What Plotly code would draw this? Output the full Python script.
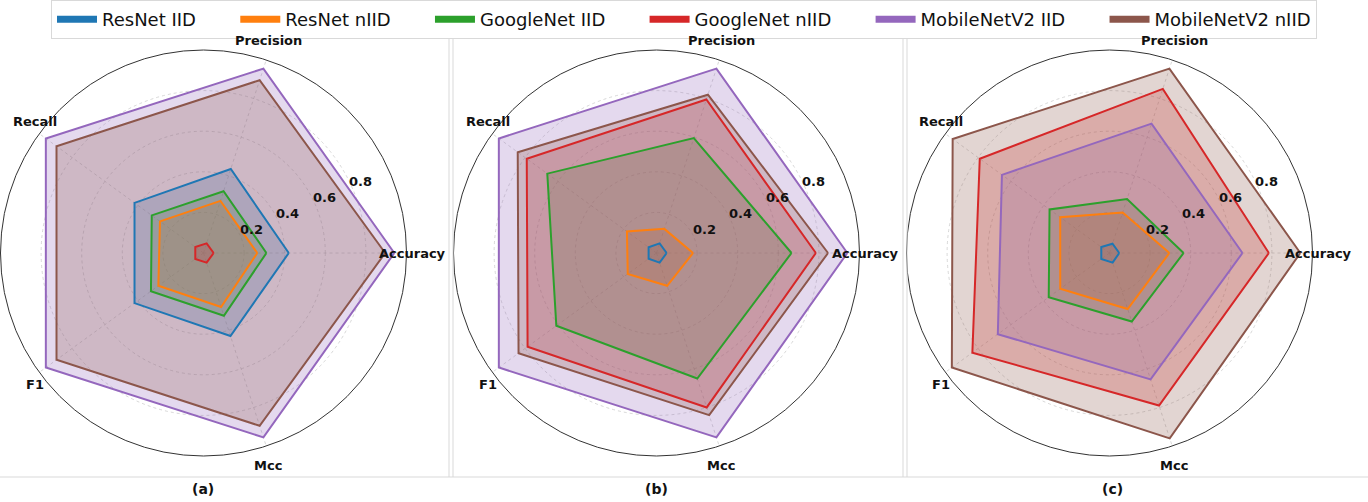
import math
import plotly.graph_objects as go

# Metrics on the radar axes (counter-clockwise from the right)
metrics = ["Accuracy", "Precision", "Recall", "F1", "Mcc"]

models = ["ResNet IID", "ResNet nIID", "GoogleNet IID", "GoogleNet nIID",
          "MobileNetV2 IID", "MobileNetV2 nIID"]
colors = ["#1f77b4", "#ff7f0e", "#2ca02c", "#d62728", "#9467bd", "#8c564b"]

# Panel (a)
a_resnet_iid = [0.42, 0.435, 0.42, 0.42, 0.43]
a_resnet_niid = [0.265, 0.27, 0.265, 0.275, 0.28]
a_googlenet_iid = [0.31, 0.32, 0.315, 0.32, 0.325]
a_googlenet_niid = [0.05, 0.05, 0.05, 0.05, 0.05]
a_mobilenet_iid = [0.94, 0.955, 0.96, 0.96, 0.955]
a_mobilenet_niid = [0.895, 0.895, 0.895, 0.895, 0.895]

# Panel (b)
b_resnet_iid = [0.05, 0.05, 0.048, 0.048, 0.05]
b_resnet_niid = [0.18, 0.125, 0.18, 0.175, 0.17]
b_googlenet_iid = [0.665, 0.595, 0.665, 0.61, 0.65]
b_googlenet_niid = [0.785, 0.795, 0.79, 0.785, 0.80]
b_mobilenet_iid = [0.94, 0.955, 0.96, 0.96, 0.955]
b_mobilenet_niid = [0.845, 0.82, 0.845, 0.84, 0.84]

# Panel (c)
c_resnet_iid = [0.048, 0.048, 0.05, 0.05, 0.05]
c_resnet_niid = [0.295, 0.21, 0.30, 0.30, 0.29]
c_googlenet_iid = [0.365, 0.28, 0.365, 0.37, 0.355]
c_googlenet_niid = [0.785, 0.85, 0.79, 0.835, 0.79]
c_mobilenet_iid = [0.655, 0.67, 0.655, 0.68, 0.655]
c_mobilenet_niid = [0.94, 0.955, 0.955, 0.96, 0.96]

panel_labels = ["(a)", "(b)", "(c)"]
panels = [
    [a_resnet_iid, a_resnet_niid, a_googlenet_iid, a_googlenet_niid, a_mobilenet_iid, a_mobilenet_niid],
    [b_resnet_iid, b_resnet_niid, b_googlenet_iid, b_googlenet_niid, b_mobilenet_iid, b_mobilenet_niid],
    [c_resnet_iid, c_resnet_niid, c_googlenet_iid, c_googlenet_niid, c_mobilenet_iid, c_mobilenet_niid],
]

radial_ticks = [0.2, 0.4, 0.6, 0.8]

W, H = 1368, 502
FONT = "DejaVu Sans"
BOLD13 = dict(family=FONT, size=13, color="#111", weight="bold")


def rgba(hex_color, alpha):
    h = hex_color.lstrip("#")
    r, g, b = int(h[0:2], 16), int(h[2:4], 16), int(h[4:6], 16)
    return f"rgba({r},{g},{b},{alpha})"


def px_to_paper(x, y):
    return x / W, (H - y) / H


fig = go.Figure()

polar_names = ["polar", "polar2", "polar3"]
for p, series in enumerate(panels):
    # translucent areas first ...
    for name, color, vals in zip(models, colors, series):
        fig.add_trace(go.Scatterpolar(
            r=vals + vals[:1],
            theta=metrics + metrics[:1],
            mode="none",
            fill="toself",
            fillcolor=rgba(color, 0.25),
            name=name,
            showlegend=False,
            hoverinfo="skip",
            subplot=polar_names[p],
        ))
    # ... then every outline on top of all areas
    for name, color, vals in zip(models, colors, series):
        fig.add_trace(go.Scatterpolar(
            r=vals + vals[:1],
            theta=metrics + metrics[:1],
            mode="lines",
            line=dict(color=color, width=2),
            name=name,
            showlegend=False,
            hoverinfo="name+r+theta",
            subplot=polar_names[p],
        ))

# Legend entries drawn as thick colour bars; non-breaking spaces pad the
# column spacing between entries
pad = "\u00a0" * 6
for i, (name, color) in enumerate(zip(models, colors)):
    label = name + (pad if i < len(models) - 1 else "")
    fig.add_trace(go.Scatterpolar(
        r=[None], theta=[None], mode="lines",
        line=dict(color=color, width=7),
        name=label, showlegend=True, subplot="polar",
    ))

# Layout of the three radar panels
centers = [203.5, 656.5, 1109.5]
cy = 253
R = 203
n = len(metrics)
for p, cx in enumerate(centers):
    polar = dict(
        domain=dict(x=[(cx - R) / W, (cx + R) / W],
                    y=[(H - cy - R) / H, (H - cy + R) / H]),
        bgcolor="rgba(0,0,0,0)",
        radialaxis=dict(
            range=[0, 1],
            tickvals=radial_ticks,
            showticklabels=False,
            angle=22.5,
            showline=False,
            ticks="",
            gridcolor="rgba(200,200,200,0.7)",
            griddash="dot",
            gridwidth=1,
            layer="above traces",
        ),
        angularaxis=dict(
            rotation=0,
            direction="counterclockwise",
            showline=True,
            linecolor="#333",
            linewidth=1,
            gridcolor="rgba(200,200,200,0.7)",
            griddash="dot",
            ticks="",
            showticklabels=False,
        ),
    )
    fig.update_layout(**{polar_names[p]: polar})

    # Metric names placed just outside the rim
    for k, m in enumerate(metrics):
        ang = math.radians(360 / n * k)
        lx = cx + 1.06 * 197 * math.cos(ang)
        ly = cy - 1.065 * 210 * math.sin(ang)
        x, y = px_to_paper(lx, ly)
        fig.add_annotation(x=x, y=y, xref="paper", yref="paper", text=m,
                           showarrow=False, xanchor="center", yanchor="middle",
                           font=BOLD13)

    # Radial tick labels along the 22.5 degree direction
    ra = math.radians(22.5)
    for t in radial_ticks:
        lx = cx + t * 197 * math.cos(ra) + 11.6
        ly = cy - t * 210 * math.sin(ra) - 7
        x, y = px_to_paper(lx, ly)
        fig.add_annotation(x=x, y=y, xref="paper", yref="paper",
                           text=f"{t:.1f}", showarrow=False,
                           xanchor="center", yanchor="middle", font=BOLD13)

# Panel captions
for cx, lab in zip([203, 656, 1112], panel_labels):
    x, y = px_to_paper(cx, 489)
    fig.add_annotation(
        x=x, y=y, xref="paper", yref="paper",
        text=lab, showarrow=False, xanchor="center", yanchor="middle",
        font=dict(family=FONT, size=14, color="#111", weight="bold"),
    )

# Thin panel separators
sep_style = dict(color="#d9d9d9", width=1)
for xs in [449, 453, 903, 907]:
    fig.add_shape(type="line", xref="paper", yref="paper",
                  x0=xs / W, x1=xs / W, y0=(H - 477) / H, y1=(H - 28) / H,
                  line=sep_style)
fig.add_shape(type="line", xref="paper", yref="paper",
              x0=0, x1=1, y0=(H - 477) / H, y1=(H - 477) / H, line=sep_style)

fig.update_layout(
    width=W, height=H,
    margin=dict(l=0, r=0, t=0, b=0),
    paper_bgcolor="white",
    plot_bgcolor="white",
    font=dict(family=FONT, color="#111"),
    showlegend=True,
    legend=dict(
        orientation="h",
        x=0.5, xanchor="center",
        y=1.0, yanchor="top",
        font=dict(family=FONT, size=18, color="#111"),
        bgcolor="white",
        bordercolor="#d9d9d9",
        borderwidth=1,
        itemwidth=40,
        tracegroupgap=0,
    ),
)

fig.write_html("out.html")
